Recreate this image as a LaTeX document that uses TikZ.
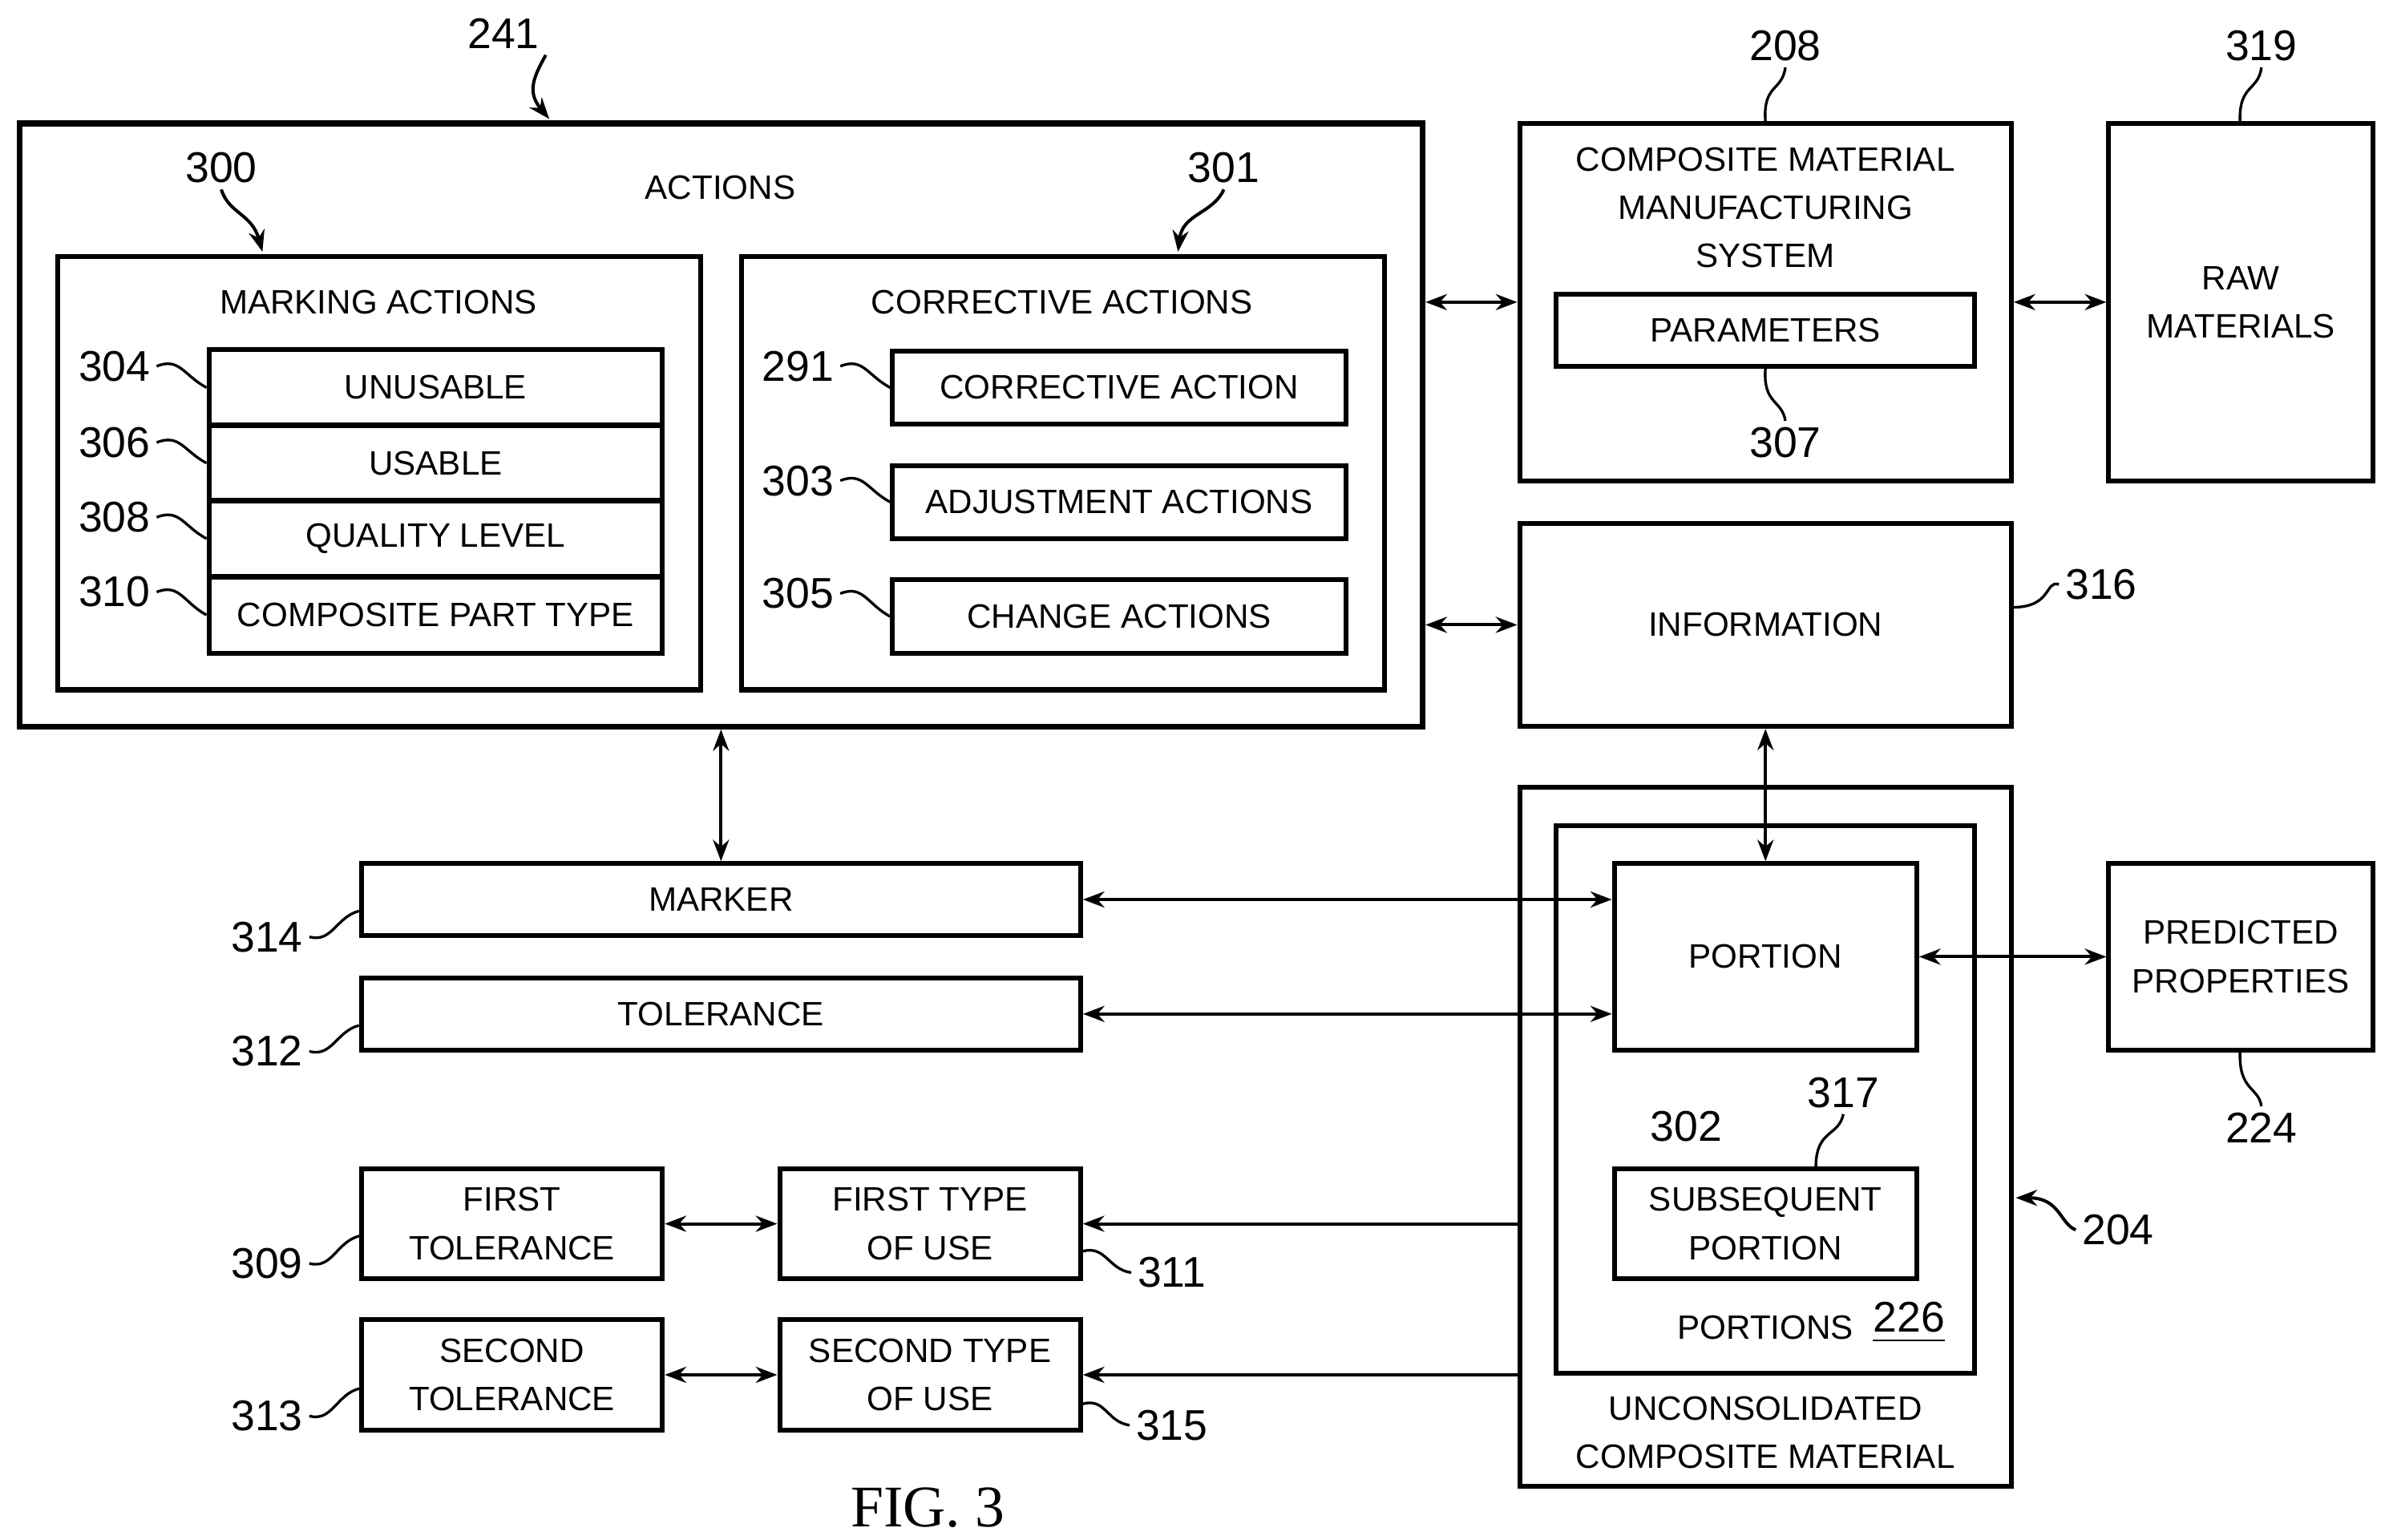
\documentclass[tikz,border=0pt]{standalone}
\usepackage{fontspec}
\setmainfont{Liberation Sans}
\newfontfamily\figfont{Liberation Serif}
\usetikzlibrary{arrows.meta,calc}

\tikzset{
  box/.style={draw, line width=0.9pt, inner sep=0pt, align=center,
    font=\fontsize{6.3}{9}\selectfont},
  outer/.style={box, line width=1.1pt},
  txt/.style={inner sep=0pt, align=center, font=\fontsize{6.3}{9}\selectfont},
  num/.style={inner sep=1pt, font=\fontsize{8}{9}\selectfont},
  arr/.style={line width=0.6pt, {Stealth[length=4pt,width=3pt]}-{Stealth[length=4pt,width=3pt]}},
  one/.style={line width=0.6pt, -{Stealth[length=4pt,width=3pt]}},
  lead/.style={line width=0.5pt},
}

\begin{document}
\begin{tikzpicture}[x=0.01cm, y=-0.01cm]
  \useasboundingbox (0,0) rectangle (1563,1009);
  % boxes
  \node[outer, minimum width=9.19cm, minimum height=3.95cm] (actions) at (472.5,278.5) {};
  \node[txt] at (472,123) {ACTIONS};
  \node[box, minimum width=4.21cm, minimum height=2.84cm] (marking) at (248.5,310) {};
  \node[txt] at (248,198) {MARKING ACTIONS};
  \node[box, minimum width=2.97cm, minimum height=0.5cm] (unusable) at (285.5,254) {UNUSABLE};
  \node[box, minimum width=2.97cm, minimum height=0.5cm] (usable) at (285.5,303.5) {USABLE};
  \node[box, minimum width=2.97cm, minimum height=0.5cm] (quality) at (285.5,353) {QUALITY LEVEL};
  \node[box, minimum width=2.97cm, minimum height=0.5cm] (parttype) at (285.5,403) {COMPOSITE PART TYPE};
  \node[box, minimum width=4.21cm, minimum height=2.84cm] (corrective) at (696.5,310) {};
  \node[txt] at (696,198) {CORRECTIVE ACTIONS};
  \node[box, minimum width=2.97cm, minimum height=0.48cm] (corraction) at (733.5,254) {CORRECTIVE ACTION};
  \node[box, minimum width=2.97cm, minimum height=0.48cm] (adjust) at (733.5,329) {ADJUSTMENT ACTIONS};
  \node[box, minimum width=2.97cm, minimum height=0.48cm] (change) at (733.5,404) {CHANGE ACTIONS};

  \node[box, minimum width=3.22cm, minimum height=2.34cm] (cmms) at (1157,198) {};
  \node[txt] at (1157,136) {COMPOSITE MATERIAL\\MANUFACTURING\\SYSTEM};
  \node[box, minimum width=2.74cm, minimum height=0.47cm] (params) at (1157,216.5) {PARAMETERS};
  \node[box, minimum width=1.73cm, minimum height=2.34cm] (raw) at (1468.5,198) {RAW\\MATERIALS};
  \node[box, minimum width=3.22cm, minimum height=1.33cm] (info) at (1157,409.5) {INFORMATION};

  \node[box, minimum width=3.22cm, minimum height=4.58cm] (uncons) at (1157,745) {};
  \node[txt] at (1157,939) {UNCONSOLIDATED\\COMPOSITE MATERIAL};
  \node[box, minimum width=2.74cm, minimum height=3.59cm] (portions) at (1157,720.5) {};
  \node[txt] at (1157,870) {PORTIONS};
  \node[num] (n226) at (1251,867) {\underline{226}};
  \node[box, minimum width=1.98cm, minimum height=1.22cm] (portion) at (1157,627) {PORTION};
  \node[box, minimum width=1.98cm, minimum height=0.72cm] (subseq) at (1157,802) {SUBSEQUENT\\PORTION};
  \node[box, minimum width=1.73cm, minimum height=1.22cm] (predicted) at (1468.5,627) {PREDICTED\\PROPERTIES};

  \node[box, minimum width=4.71cm, minimum height=0.47cm] (marker) at (472.5,589.5) {MARKER};
  \node[box, minimum width=4.71cm, minimum height=0.47cm] (tolerance) at (472.5,664.5) {TOLERANCE};
  \node[box, minimum width=1.97cm, minimum height=0.72cm] (firsttol) at (335.5,802) {FIRST\\TOLERANCE};
  \node[box, minimum width=1.97cm, minimum height=0.72cm] (firsttype) at (609.5,802) {FIRST TYPE\\OF USE};
  \node[box, minimum width=1.97cm, minimum height=0.72cm] (secondtol) at (335.5,901) {SECOND\\TOLERANCE};
  \node[box, minimum width=1.97cm, minimum height=0.72cm] (secondtype) at (609.5,901) {SECOND TYPE\\OF USE};

  % connectors
  \draw[arr] (actions.east |- cmms.west) -- (cmms.west);
  \draw[arr] (actions.east |- info.west) -- (info.west);
  \draw[arr] (cmms.east) -- (raw.west);
  \draw[arr] (actions.south) -- (marker.north);
  \draw[arr] (info.south) -- (portion.north);
  \draw[arr] (marker.east) -- (portion.west |- marker.east);
  \draw[arr] (tolerance.east) -- (portion.west |- tolerance.east);
  \draw[arr] (portion.east) -- (predicted.west);
  \draw[arr] (firsttol.east) -- (firsttype.west);
  \draw[arr] (secondtol.east) -- (secondtype.west);
  \draw[one] (uncons.west |- firsttype.east) -- (firsttype.east);
  \draw[one] (uncons.west |- secondtype.east) -- (secondtype.east);

  % reference numerals
  \node[num] (n241) at (330,22) {241};
  \draw[one] (n241.south east) .. controls (350,50) and (345,60) .. (360,78);
  \node[num] (n300) at (145,110) {300};
  \draw[one] (n300.south) .. controls (150,140) and (165,140) .. (172,165);
  \node[num] (n301) at (802,110) {301};
  \draw[one] (n301.south) .. controls (795,140) and (775,140) .. (772,165);
  \node[num] (n208) at (1170,30) {208};
  \draw[lead] (n208.south) .. controls (1168,60) and (1155,55) .. (1157,80);
  \node[num] (n319) at (1482,30) {319};
  \draw[lead] (n319.south) .. controls (1480,60) and (1467,55) .. (1468,80);
  \node[num] (n307) at (1170,290) {307};
  \draw[lead] (n307.north) .. controls (1168,262) and (1155,265) .. (1157,241);
  \foreach \lab/\y/\tgt in {304/240/unusable, 306/290/usable, 308/339/quality, 310/388/parttype}{
    \node[num] (n\lab) at (75,\y) {\lab};
    \draw[lead] (n\lab.east) .. controls +(15,-6) and +(-15,-8) .. (\tgt.west);
  }
  \foreach \lab/\y/\tgt in {291/240/corraction, 303/315/adjust, 305/389/change}{
    \node[num] (n\lab) at (523,\y) {\lab};
    \draw[lead] (n\lab.east) .. controls +(15,-6) and +(-15,-8) .. (\tgt.west);
  }
  \node[num] (n316) at (1377,383) {316};
  \draw[lead] (n316.west) .. controls (1340,380) and (1345,398) .. (1319,398);
  \foreach \lab/\y/\tgt/\ty in {314/614/marker/597, 312/689/tolerance/672, 309/828/firsttol/810, 313/928/secondtol/910}{
    \node[num] (n\lab) at (175,\y) {\lab};
    \draw[lead] (n\lab.east) .. controls +(15,4) and +(-15,4) .. (\tgt.west |- 0,\ty);
  }
  \foreach \lab/\y/\tgt/\ty in {311/834/firsttype/820, 315/934/secondtype/920}{
    \node[num] (n\lab) at (768,\y) {\lab};
    \draw[lead] (n\lab.west) .. controls +(-15,-2) and +(15,-4) .. (\tgt.east |- 0,\ty);
  }
  \node[num] (n302) at (1105,738) {302};
  \node[num] (n317) at (1208,716) {317};
  \draw[lead] (n317.south) .. controls (1205,745) and (1190,740) .. (1190,765);
  \node[num] (n224) at (1482,739) {224};
  \draw[lead] (n224.north) .. controls (1480,712) and (1467,715) .. (1468,689);
  \node[num] (n204) at (1388,806) {204};
  \draw[one] (n204.west) .. controls (1350,802) and (1350,785) .. (1321,785);

  \node[inner sep=0pt, font=\figfont\fontsize{11}{12}\selectfont] (fig) at (608,988) {FIG. 3};
\end{tikzpicture}
\end{document}
